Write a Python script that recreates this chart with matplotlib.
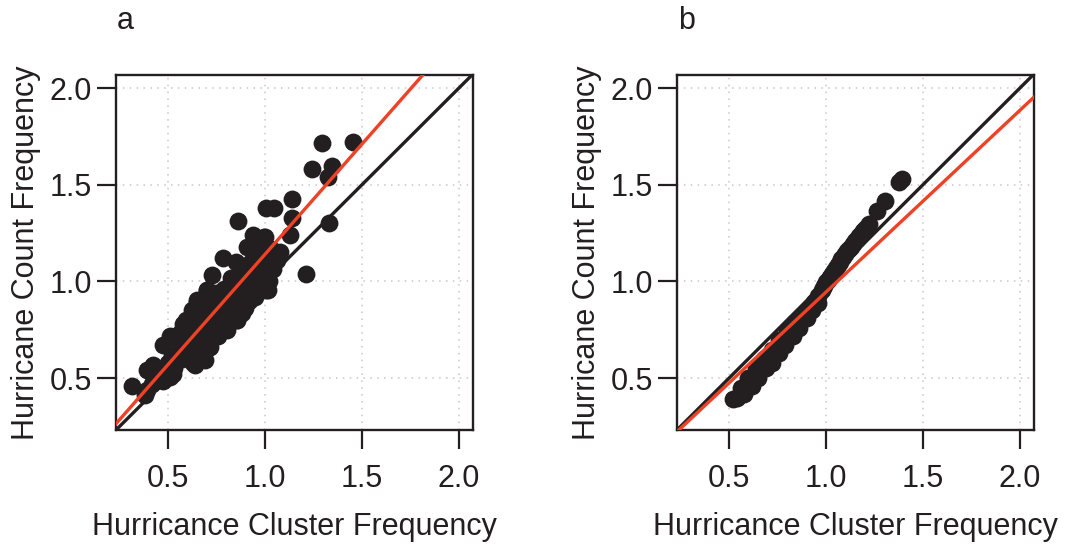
import matplotlib
matplotlib.use("Agg")
import matplotlib.pyplot as plt

INK = "#231F20"
RED = "#EE4126"
GRID = "#C8C8C8"

plt.rcParams["font.family"] = ["Liberation Sans", "DejaVu Sans"]

# panel a: hurricane cluster frequency vs count frequency
a_x = [1.292, 1.452, 1.241, 1.344, 1.327, 1.138, 1.005, 1.046, 0.862, 1.138,
       1.129, 1.330, 1.210, 0.940, 0.995, 0.909, 1.077, 0.782, 0.850, 0.725,
       0.990, 1.060, 1.040, 1.005, 0.948, 1.000, 0.957, 0.923, 1.043, 1.009,
       1.017, 0.700, 0.648, 0.823, 0.875, 0.854,
       0.313, 0.381, 0.390, 0.424, 0.476, 0.510, 0.450, 0.390, 0.639, 0.690,
       0.716, 0.803, 0.854, 0.897, 0.579, 0.562, 0.648, 0.622, 0.700, 0.510,
       0.398, 0.476, 0.527, 0.630, 0.708, 0.785, 0.880, 0.595, 0.543,
       0.42, 0.45, 0.48, 0.50, 0.52, 0.53, 0.55, 0.56, 0.57, 0.58,
       0.60, 0.60, 0.62, 0.62, 0.63, 0.64, 0.65, 0.66, 0.67, 0.67,
       0.68, 0.69, 0.70, 0.71, 0.72, 0.72, 0.73, 0.74, 0.75, 0.76,
       0.77, 0.78, 0.79, 0.80, 0.81, 0.82, 0.83, 0.84, 0.85, 0.86,
       0.87, 0.88, 0.90, 0.91, 0.92, 0.93, 0.95, 0.96, 0.97, 0.98,
       1.00, 1.02, 1.03, 0.76, 0.80]
a_y = [1.717, 1.720, 1.580, 1.597, 1.542, 1.425, 1.378, 1.381, 1.313, 1.327,
       1.241, 1.300, 1.037, 1.240, 1.230, 1.180, 1.154, 1.120, 1.100, 1.034,
       1.040, 1.110, 1.065, 0.956, 0.920, 1.232, 1.189, 1.077, 1.095, 1.025,
       0.956, 0.956, 0.896, 1.017, 0.964, 0.800,
       0.460, 0.413, 0.543, 0.570, 0.672, 0.508, 0.490, 0.440, 0.570, 0.595,
       0.663, 0.751, 0.800, 0.861, 0.780, 0.732, 0.904, 0.853, 0.956, 0.716,
       0.543, 0.483, 0.520, 0.577, 0.655, 0.750, 0.836, 0.800, 0.715,
       0.47, 0.53, 0.55, 0.58, 0.62, 0.55, 0.63, 0.68, 0.60, 0.66,
       0.70, 0.62, 0.74, 0.66, 0.80, 0.70, 0.76, 0.64, 0.82, 0.72,
       0.78, 0.86, 0.74, 0.82, 0.90, 0.70, 0.78, 0.86, 0.94, 0.80,
       0.88, 0.84, 0.96, 0.90, 0.80, 0.94, 0.88, 1.00, 0.92, 0.86,
       1.02, 0.95, 1.06, 0.98, 0.90, 1.10, 1.02, 1.14, 0.96, 1.08,
       1.12, 1.00, 1.17, 0.72, 0.76]

# panel b: sorted frequencies (a thick band in the lower half)
b_x = [0.52, 0.54, 0.56, 0.58, 0.60, 0.62, 0.64, 0.66, 0.68, 0.70,
       0.72, 0.74, 0.76, 0.78, 0.80, 0.82, 0.84, 0.86, 0.88, 0.90,
       0.92, 0.94, 0.96, 0.98, 0.99, 1.00, 1.01, 1.02, 1.03, 1.04,
       1.05, 1.06, 1.07, 1.08, 1.09, 1.10, 1.11, 1.12, 1.13, 1.14,
       1.15, 1.16, 1.17, 1.18, 1.19, 1.20, 1.21, 1.22,
       1.265, 1.305, 1.375, 1.39,
       0.56, 0.60, 0.64, 0.68, 0.72, 0.76, 0.80, 0.84,
       0.58, 0.62, 0.65, 0.69, 0.72, 0.76, 0.79, 0.83, 0.86, 0.90,
       0.93, 0.96]
b_y = [0.39, 0.40, 0.42, 0.45, 0.475, 0.50, 0.52, 0.545, 0.57, 0.595,
       0.62, 0.645, 0.67, 0.70, 0.725, 0.75, 0.77, 0.79, 0.815, 0.84,
       0.87, 0.895, 0.925, 0.955, 0.975, 0.995, 1.01, 1.025, 1.04, 1.055,
       1.07, 1.085, 1.10, 1.115, 1.125, 1.14, 1.155, 1.17, 1.18, 1.195,
       1.21, 1.22, 1.235, 1.245, 1.26, 1.27, 1.28, 1.295,
       1.365, 1.415, 1.515, 1.53,
       0.45, 0.50, 0.555, 0.60, 0.645, 0.695, 0.745, 0.79,
       0.42, 0.46, 0.50, 0.55, 0.58, 0.63, 0.67, 0.72, 0.76, 0.81,
       0.85, 0.89]

# fitted lines (slope, intercept)
fit_a = (1.14, 0.0)
fit_b = (0.94, 0.005)

ticks = [0.5, 1.0, 1.5, 2.0]
tick_labels = ["0.5", "1.0", "1.5", "2.0"]
lims = (0.232, 2.07)

W, H = 1066, 544
FS = 22
fig = plt.figure(figsize=(W / 100, H / 100), dpi=100)


def panel(left_px, xs, ys, fit, letter):
    ax = fig.add_axes([left_px / W, 114 / H, 356.5 / W, 355.5 / H])
    ax.set_xlim(lims)
    ax.set_ylim(lims)
    ax.set_xticks(ticks, tick_labels)
    ax.set_yticks(ticks, tick_labels)
    ax.grid(True, color=GRID, linestyle=(0, (1, 3.5)), linewidth=1.1)
    ax.set_axisbelow(True)
    for s in ax.spines.values():
        s.set_linewidth(1.7)
        s.set_color(INK)
    ax.tick_params(axis="both", length=13.5, width=1.6, color=INK,
                   labelsize=FS, labelcolor=INK)
    ax.tick_params(axis="x", pad=11)
    ax.tick_params(axis="y", pad=4)
    ax.scatter(xs, ys, s=165, color=INK, linewidths=0, zorder=3)
    ax.axline((0, 0), slope=1, color=INK, linewidth=2.4, zorder=4)
    ax.axline((0, fit[1]), slope=fit[0], color=RED, linewidth=2.4, zorder=5)
    ax.set_xlabel("Hurricance Cluster Frequency", fontsize=FS, color=INK,
                  labelpad=13)
    ax.set_ylabel("Hurricane Count Frequency", fontsize=FS, color=INK,
                  labelpad=6)
    fig.text((left_px + 1) / W, 1 - 21 / H, letter, fontsize=FS, color=INK,
             ha="left", va="center")
    return ax


panel(116, a_x, a_y, fit_a, "a")
panel(677, b_x, b_y, fit_b, "b")

fig.savefig("out.png", dpi=100)
